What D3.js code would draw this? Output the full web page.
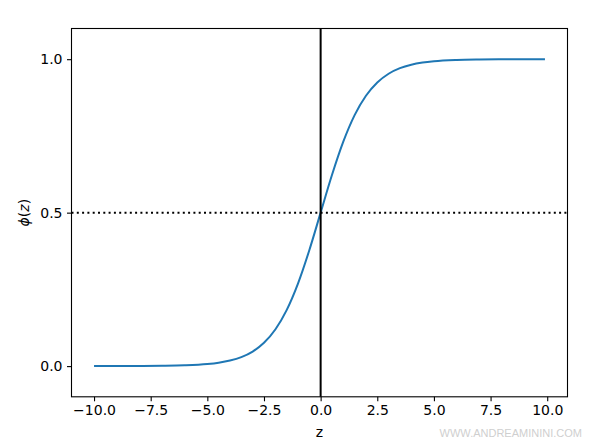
<!DOCTYPE html>
<html><head><meta charset="utf-8">
<script src="https://cdn.jsdelivr.net/npm/d3@7"></script>
<style>body{margin:0;background:#fff}svg{display:block}text{font-family:"DejaVu Sans",sans-serif}</style>
</head><body>
<script>
const zValues = [-10,-9,-8,-7,-6,-5,-4.5,-4,-3.5,-3,-2.5,-2,-1.5,-1,-0.5,0,0.5,1,1.5,2,2.5,3,3.5,4,4.5,5,6,7,8,9,9.9];
const phiValues = [0.0000454,0.000123,0.000335,0.000911,0.00247,0.00669,0.0110,0.0180,0.0293,0.0474,0.0759,0.1192,0.1824,0.2689,0.3775,0.5,0.6225,0.7311,0.8176,0.8808,0.9241,0.9526,0.9707,0.9820,0.9890,0.9933,0.99753,0.99909,0.99966,0.99988,0.99995];
const xTicks = [-10,-7.5,-5,-2.5,0,2.5,5,7.5,10];
const yTicks = [0,0.5,1.0];
const threshold = 0.5;
const xLabel = "z";
const watermark = "WWW.ANDREAMININI.COM";

const W=597,H=440;
const svg=d3.select("body").append("svg").attr("width",W).attr("height",H);
const L=71.5,R=567.5,T=28.5,B=396.8;
const x=d3.scaleLinear().domain([-10.995,10.895]).range([L,R]);
const y=d3.scaleLinear().domain([-0.1,1.1]).range([B,T]);

const g=svg.append("g");
const pts=zValues.map((z,i)=>[z,phiValues[i]]);
g.append("path").datum(pts).attr("fill","none").attr("stroke","#1f77b4").attr("stroke-width",2)
 .attr("d",d3.line().x(d=>x(d[0])).y(d=>y(d[1])).curve(d3.curveMonotoneX));
g.append("line").attr("x1",x(0)).attr("x2",x(0)).attr("y1",T).attr("y2",B).attr("stroke","#000").attr("stroke-width",2);
g.append("line").attr("x1",L).attr("x2",R).attr("y1",y(threshold)).attr("y2",y(threshold)).attr("stroke","#000").attr("stroke-width",2).attr("stroke-dasharray","2,3.3");

svg.append("rect").attr("x",L).attr("y",T).attr("width",R-L).attr("height",B-T).attr("fill","none").attr("stroke","#000").attr("stroke-width",1.1);

const xa=svg.append("g").attr("transform",`translate(0,${B})`)
 .call(d3.axisBottom(x).tickValues(xTicks).tickFormat(d3.format(".1f")).tickSize(4.5).tickPadding(4));
const ya=svg.append("g").attr("transform",`translate(${L},0)`)
 .call(d3.axisLeft(y).tickValues(yTicks).tickFormat(d3.format(".1f")).tickSize(4.5).tickPadding(4.5));
[xa,ya].forEach(a=>{a.attr("font-size",14).attr("font-family","DejaVu Sans");a.select(".domain").remove();a.selectAll("text").attr("fill","#000");a.selectAll("line").attr("stroke","#000").attr("stroke-width",1.1);});
xa.selectAll("text").text(d=>d3.format(".1f")(d).replace("-","\u2212"));

svg.append("text").attr("x",(L+R)/2).attr("y",437).attr("text-anchor","middle").attr("font-size",14).text(xLabel);
const yl=svg.append("text").attr("transform",`translate(29,${(T+B)/2}) rotate(-90)`).attr("text-anchor","middle").attr("font-size",14);
yl.append("tspan").attr("font-style","italic").text("\u03d5");
yl.append("tspan").text("(");
yl.append("tspan").attr("font-style","italic").text("z");
yl.append("tspan").text(")");
svg.append("text").attr("x",582).attr("y",437).attr("text-anchor","end").attr("font-size",11).attr("fill","#cfcfcf").style("font-family","Liberation Sans, Arial, sans-serif").text(watermark);
</script>
</body></html>
